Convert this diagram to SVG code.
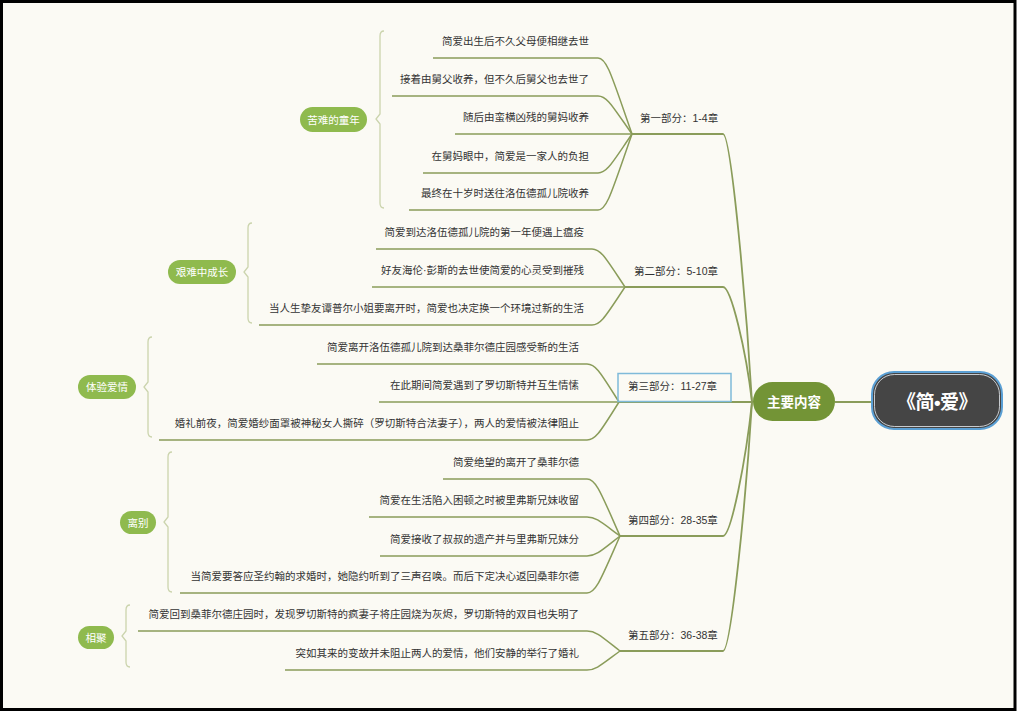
<svg xmlns="http://www.w3.org/2000/svg" width="1019" height="714" viewBox="0 0 1019 714">
<style>
.leaf{font-family:"Liberation Sans","Noto Sans CJK SC",sans-serif;font-size:10.5px;fill:#333;text-anchor:end}
.part{font-family:"Liberation Sans","Noto Sans CJK SC",sans-serif;font-size:10.5px;fill:#333}
.sum{font-family:"Liberation Sans","Noto Sans CJK SC",sans-serif;font-size:10.5px;fill:#fff;text-anchor:middle}
.ln{fill:none;stroke:#8a9c5a;stroke-width:1.5}
.br{fill:none;stroke:#8a9c5a;stroke-width:1.8}
.brk{fill:none;stroke:#cbd4ad;stroke-width:1.3}
.pill{fill:#8fba4e}
</style>
<rect x="0" y="0" width="1019" height="714" fill="#fff"/>
<rect x="1.5" y="1.5" width="1013.5" height="708" fill="#fbfaf4" stroke="#000" stroke-width="3"/>

<g id="connectors">
<path class="br" d="M632 134 H723 C731 134 746 300 752 402"/>
<path class="br" d="M625 287 H723 C731 287 746 350 752 402"/>
<path class="br" d="M619 402 H753"/>
<path class="br" d="M620 536 H723 C731 536 746 460 752 402"/>
<path class="br" d="M620 651 H723 C731 651 746 500 752 402"/>
<path class="br" d="M835 402 H872"/>
<path class="ln" d="M433 58 H598 C607 58 612 77 632 134"/>
<path class="ln" d="M392 96 H598 C607 96 612 105.5 632 134"/>
<path class="ln" d="M455 134 H632"/>
<path class="ln" d="M423 173 H598 C607 173 612 163 632 134"/>
<path class="ln" d="M409 210 H598 C607 210 612 191 632 134"/>
<path class="ln" d="M376 249 H592 C601 249 606 258.5 625 287"/>
<path class="ln" d="M372 287 H625"/>
<path class="ln" d="M259 325 H592 C601 325 606 315.5 625 287"/>
<path class="ln" d="M317 364 H587 C596 364 601 373.5 619 402"/>
<path class="ln" d="M379 402 H619"/>
<path class="ln" d="M159 440 H587 C596 440 601 430.5 619 402"/>
<path class="ln" d="M443 479 H587 C596 479 601 493 620 536"/>
<path class="ln" d="M369 517 H587 C596 517 601 522 620 536"/>
<path class="ln" d="M380 556 H587 C596 556 601 551 620 536"/>
<path class="ln" d="M180 593 H587 C596 593 601 579 620 536"/>
<path class="ln" d="M138 631 H587 C596 631 601 636 620 651"/>
<path class="ln" d="M285 670 H587 C596 670 601 665 620 651"/>
<path class="brk" d="M384 31 Q380 31 380 36 V114 L376 119 L380 124 V203 Q380 208 384 208"/>
<path class="brk" d="M252 223 Q248 223 248 228 V267 L244 272 L248 277 V318 Q248 323 252 323"/>
<path class="brk" d="M152 337 Q148 337 148 342 V382 L144 387 L148 392 V432 Q148 437 152 437"/>
<path class="brk" d="M172 452 Q168 452 168 457 V517 L164 522 L168 527 V587 Q168 592 172 592"/>
<path class="brk" d="M130 605 Q126 605 126 610 V631 L122 636 L126 641 V662 Q126 667 130 667"/>
</g>

<g id="root">
<rect x="872" y="372" width="130" height="57" rx="22" fill="#454545" stroke="#5a9fd4" stroke-width="2"/>
<rect x="874.5" y="374.5" width="125" height="52" rx="20" fill="none" stroke="#e8eef2" stroke-width="0.8"/>
<text x="937" y="409" text-anchor="middle" font-family="Liberation Sans,Noto Sans CJK SC,sans-serif" font-size="19" font-weight="bold" fill="#fff" letter-spacing="-0.5">《简•爱》</text>
</g>

<g id="main">
<rect x="753" y="382" width="82" height="39" rx="19.5" fill="#739436"/>
<text x="794" y="407" text-anchor="middle" font-family="Noto Sans CJK SC,Liberation Sans,sans-serif" font-size="13.5" font-weight="bold" fill="#fff">主要内容</text>
</g>

<g id="part1"><text class="part" x="640" y="122">第一部分：1-4章</text></g>
<g id="part2"><text class="part" x="634" y="275">第二部分：5-10章</text></g>
<g id="part3">
<rect x="618" y="373.5" width="113" height="28" fill="none" stroke="#7fbad9" stroke-width="1.5"/>
<text class="part" x="628" y="390">第三部分：11-27章</text>
</g>
<g id="part4"><text class="part" x="628" y="524">第四部分：28-35章</text></g>
<g id="part5"><text class="part" x="628" y="639">第五部分：36-38章</text></g>

<g id="leaves1">
<text class="leaf" x="589" y="44.5">简爱出生后不久父母便相继去世</text>
<text class="leaf" x="589" y="82.5">接着由舅父收养，但不久后舅父也去世了</text>
<text class="leaf" x="589" y="120.5">随后由蛮横凶残的舅妈收养</text>
<text class="leaf" x="589" y="159.5">在舅妈眼中，简爱是一家人的负担</text>
<text class="leaf" x="589" y="196.5">最终在十岁时送往洛伍德孤儿院收养</text>
</g>
<g id="leaves2">
<text class="leaf" x="584" y="235.5">简爱到达洛伍德孤儿院的第一年便遇上瘟疫</text>
<text class="leaf" x="584" y="273.5">好友海伦·彭斯的去世使简爱的心灵受到摧残</text>
<text class="leaf" x="584" y="311.5">当人生挚友谭普尔小姐要离开时，简爱也决定换一个环境过新的生活</text>
</g>
<g id="leaves3">
<text class="leaf" x="579" y="350.5">简爱离开洛伍德孤儿院到达桑菲尔德庄园感受新的生活</text>
<text class="leaf" x="579" y="388.5">在此期间简爱遇到了罗切斯特并互生情愫</text>
<text class="leaf" x="579" y="426.5">婚礼前夜，简爱婚纱面罩被神秘女人撕碎（罗切斯特合法妻子），两人的爱情被法律阻止</text>
</g>
<g id="leaves4">
<text class="leaf" x="579" y="465.5">简爱绝望的离开了桑菲尔德</text>
<text class="leaf" x="579" y="503.5">简爱在生活陷入困顿之时被里弗斯兄妹收留</text>
<text class="leaf" x="579" y="542.5">简爱接收了叔叔的遗产并与里弗斯兄妹分</text>
<text class="leaf" x="579" y="579.5">当简爱要答应圣约翰的求婚时，她隐约听到了三声召唤。而后下定决心返回桑菲尔德</text>
</g>
<g id="leaves5">
<text class="leaf" x="579" y="617.5">简爱回到桑菲尔德庄园时，发现罗切斯特的疯妻子将庄园烧为灰烬，罗切斯特的双目也失明了</text>
<text class="leaf" x="579" y="656.5">突如其来的变故并未阻止两人的爱情，他们安静的举行了婚礼</text>
</g>

<g id="summary1"><rect class="pill" x="300" y="107" width="67" height="25" rx="12.5"/><text class="sum" x="333.5" y="123.5">苦难的童年</text></g>
<g id="summary2"><rect class="pill" x="168" y="260" width="68" height="24" rx="12"/><text class="sum" x="202" y="276">艰难中成长</text></g>
<g id="summary3"><rect class="pill" x="78" y="375" width="58" height="24" rx="12"/><text class="sum" x="107" y="391">体验爱情</text></g>
<g id="summary4"><rect class="pill" x="120" y="511" width="36" height="23" rx="11.5"/><text class="sum" x="138" y="526.5">离别</text></g>
<g id="summary5"><rect class="pill" x="78" y="626" width="36" height="23" rx="11.5"/><text class="sum" x="96" y="641.5">相聚</text></g>
</svg>
